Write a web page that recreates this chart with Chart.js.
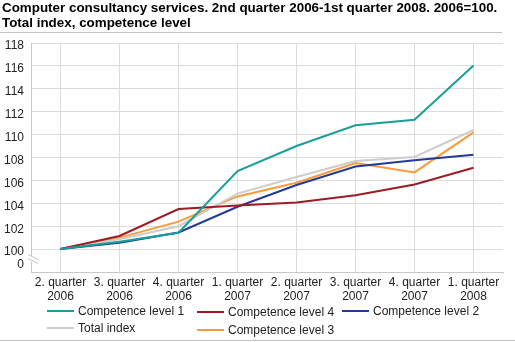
<!DOCTYPE html>
<html>
<head>
<meta charset="utf-8">
<script src="https://cdn.jsdelivr.net/npm/chart.js@4.4.1/dist/chart.umd.min.js"></script>
<style>
  body { margin: 0; background: #fff; font-family: "Liberation Sans", Arial, sans-serif; }
  #wrap { position: relative; width: 515px; height: 342px; overflow: hidden; }
  #title { position: absolute; left: 2px; top: 0; font-weight: bold; font-size: 13.4px; line-height: 15px; color: #000; }
  #rule { position: absolute; left: 0; top: 32px; width: 502px; height: 1px; background: #c4c4c4; }
  #bottomRule { position: absolute; left: 0; top: 340px; width: 515px; height: 1px; background: #c4c4c4; }
  canvas { position: absolute; left: 0; top: 0; }
  .item { position: absolute; font-size: 12px; color: #222; white-space: nowrap; height: 14px; line-height: 14px; }
  .item span.swatch { position: absolute; left: 0; top: 6px; width: 27px; height: 2px; }
  .item span.label { position: absolute; left: 31px; top: 0; }
</style>
</head>
<body>
<div id="wrap">
  <canvas id="chart" width="515" height="342"></canvas>
  <div id="title">Computer consultancy services. 2nd quarter 2006-1st quarter 2008. 2006=100.<br>Total index, competence level</div>
  <div id="rule"></div>
  <div id="bottomRule"></div>
  <div id="legend"></div>
</div>
<script>
var quarters = [
  ["2. quarter", "2006"], ["3. quarter", "2006"], ["4. quarter", "2006"],
  ["1. quarter", "2007"], ["2. quarter", "2007"], ["3. quarter", "2007"],
  ["4. quarter", "2007"], ["1. quarter", "2008"]
];

var level1 = [100, 100.65, 101.43, 106.82, 109.0, 110.82, 111.3, 116.04];
var level4 = [100, 101.15, 103.5, 103.8, 104.08, 104.7, 105.65, 107.11];
var level2 = [100, 100.56, 101.45, 103.7, 105.6, 107.22, 107.77, 108.23];
var totalIndex = [100, 100.86, 102.0, 104.85, 106.3, 107.7, 108.05, 110.4];
var level3 = [100, 101.0, 102.4, 104.6, 105.8, 107.52, 106.7, 110.2];

var seriesNames = ["Competence level 1", "Competence level 4", "Competence level 2", "Total index", "Competence level 3"];
var seriesColors = ["#1a9e99", "#9e1b24", "#243a97", "#cdcdcd", "#f89c3c"];

var yTicks = [0, 100, 102, 104, 106, 108, 110, 112, 114, 116, 118];
var zeroPos = 98.9; // where the "0" label sits below the axis break

var seriesData = [level1, level4, level2, totalIndex, level3];

var datasets = seriesNames.map(function (name, i) {
  return {
    label: name,
    data: seriesData[i],
    borderColor: seriesColors[i],
    backgroundColor: seriesColors[i],
    borderWidth: 2,
    pointRadius: 0,
    tension: 0
  };
});

// little axis break marks between 0 and 100
var axisBreak = {
  id: 'axisBreak',
  afterDraw: function (chart) {
    var c = chart.ctx;
    var x = chart.chartArea.left;
    c.save();
    c.fillStyle = '#fff';
    c.fillRect(x - 2, 256, 4, 6);
    c.strokeStyle = '#c4c4c4';
    c.lineWidth = 1;
    c.beginPath();
    c.moveTo(x - 3, 254.5); c.lineTo(x + 7, 259.5);
    c.moveTo(x - 3, 258.5); c.lineTo(x + 7, 263.5);
    c.stroke();
    c.restore();
  }
};

var ctx = document.getElementById("chart").getContext('2d');

var myChart = new Chart(ctx, {
  type: 'line',
  data: { labels: quarters, datasets: datasets },
  options: {
    responsive: false,
    animation: false,
    devicePixelRatio: 1,
    layout: { padding: { top: 43, right: 12, bottom: 34, left: 0 } },
    plugins: { legend: { display: false }, title: { display: false }, tooltip: { enabled: false } },
    scales: {
      x: {
        offset: true,
        grid: { color: '#dcdcdc', drawTicks: false },
        border: { color: '#c8c8c8' },
        ticks: {
          color: '#222', padding: 3, maxRotation: 0, autoSkip: false,
          font: { family: '"Liberation Sans", Arial, sans-serif', size: 12 }
        },
        afterFit: function (scale) { scale.height = 36; }
      },
      y: {
        min: 98,
        max: 118,
        grid: {
          drawTicks: false,
          color: function (c) { return c.tick && c.tick.value < 100 ? 'rgba(0,0,0,0)' : '#dcdcdc'; }
        },
        border: { color: '#c8c8c8' },
        ticks: {
          color: '#222', padding: 7, labelOffset: 3,
          font: { family: '"Liberation Sans", Arial, sans-serif', size: 12 },
          callback: function (v) { return v < 100 ? '0' : v; }
        },
        afterBuildTicks: function (scale) {
          scale.ticks = yTicks.map(function (t) { return { value: t === 0 ? zeroPos : t }; });
        },
        afterFit: function (scale) { scale.width = 31; }
      }
    }
  },
  plugins: [axisBreak]
});

// legend laid out in columns like the original
var slots = [[47, 304], [197, 305], [342, 304], [47, 321], [197, 323]];
var legend = document.getElementById('legend');
seriesNames.forEach(function (name, i) {
  var d = document.createElement('div');
  d.className = 'item';
  d.style.left = slots[i][0] + 'px';
  d.style.top = slots[i][1] + 'px';
  d.innerHTML = '<span class="swatch" style="background:' + seriesColors[i] + '"></span><span class="label">' + name + '</span>';
  legend.appendChild(d);
});
</script>
</body>
</html>
